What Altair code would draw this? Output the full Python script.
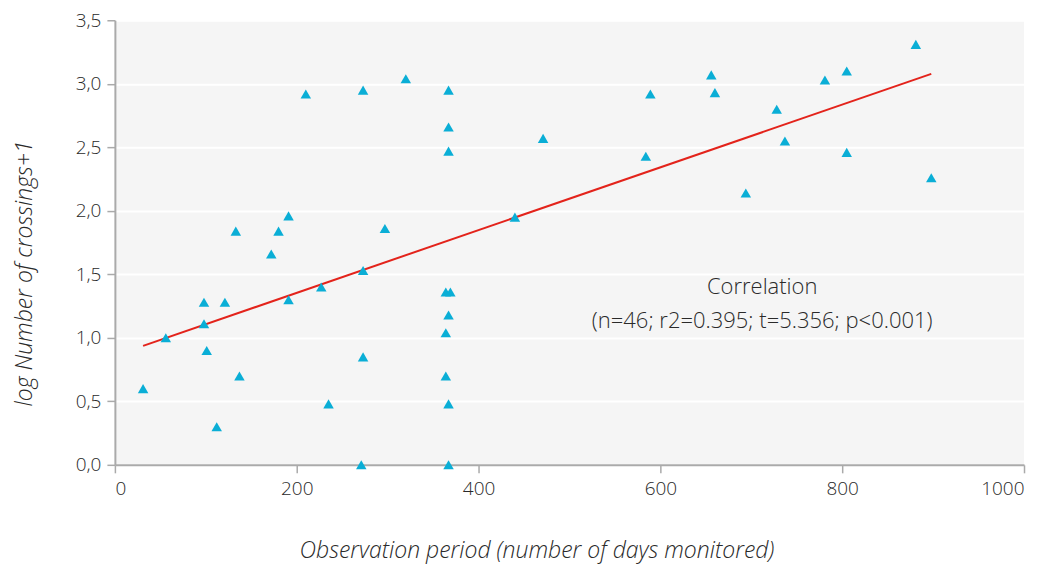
import altair as alt
import pandas as pd

days = [31, 56, 98, 121, 98, 101, 137, 112, 172, 191, 227, 273, 235, 273, 271,
        364, 369, 367, 364, 364, 367, 367, 133, 180, 191, 297, 440, 210, 273,
        320, 367, 367, 367, 471, 589, 584, 656, 660, 694, 728, 737, 781, 805,
        805, 881, 898]
log_cross = [0.60, 1.00, 1.28, 1.28, 1.11, 0.90, 0.70, 0.30, 1.66, 1.30, 1.40,
             1.53, 0.48, 0.85, 0.00, 1.36, 1.36, 1.18, 1.04, 0.70, 0.48, 0.00,
             1.84, 1.84, 1.96, 1.86, 1.95, 2.92, 2.95, 3.04, 2.95, 2.66, 2.47,
             2.57, 2.92, 2.43, 3.07, 2.93, 2.14, 2.80, 2.55, 3.03, 3.10, 2.46,
             3.31, 2.26]

note_lines = ["Correlation", "(n=46; r2=0.395; t=5.356; p<0.001)"]
note_x = [712, 712]
note_y = [1.40, 1.13]

df = pd.DataFrame({"days": days, "logc": log_cross})
notes = pd.DataFrame({"text": note_lines, "x": note_x, "y": note_y})

FONT = "Open Sans"
TXT = "#2a2a2a"

xscale = alt.Scale(domain=[0, 1000], nice=False, zero=True)
yscale = alt.Scale(domain=[0, 3.5], nice=False)

xaxis = alt.Axis(values=[0, 200, 400, 600, 800, 1000], grid=False, format="d",
                 title="Observation period (number of days monitored)",
                 titleFontStyle="italic", titleFontWeight=300,
                 titleFontSize=23, titleColor=TXT, titleFont=FONT,
                 titleX=422, titleY=86, titleBaseline="middle",
                 titleAlign="center",
                 labelFont=FONT, labelFontSize=19, labelFontWeight=300,
                 labelColor=TXT, labelPadding=7, tickSize=8,
                 tickColor="#aaaaaa", domainColor="#aaaaaa", domainWidth=2,
                 tickWidth=1.5)
yaxis = alt.Axis(values=[0, 0.5, 1, 1.5, 2, 2.5, 3, 3.5], grid=True,
                 gridColor="white", gridWidth=2,
                 labelExpr="replace(format(datum.value, '.1f'), '.', ',')",
                 title="log Number of crossings+1",
                 titleFontStyle="italic", titleFontWeight=300,
                 titleFontSize=23, titleColor=TXT, titleFont=FONT,
                 titleX=-90, titleY=253, titleBaseline="middle",
                 titleAlign="center", titleAngle=270,
                 labelFont=FONT, labelFontSize=19, labelFontWeight=300,
                 labelColor=TXT, labelPadding=6, tickSize=8,
                 tickColor="#aaaaaa", domainColor="#aaaaaa", domainWidth=2,
                 tickWidth=1.5)

base = alt.Chart(df)

points = base.mark_point(shape="triangle-up", filled=True, size=110,
                         color="#0aaed6", opacity=1).encode(
    x=alt.X("days:Q", scale=xscale, axis=xaxis),
    y=alt.Y("logc:Q", scale=yscale, axis=yaxis),
)

trend = base.transform_regression("days", "logc").mark_line(
    color="#e3231b", strokeWidth=2).encode(
    x=alt.X("days:Q", scale=xscale),
    y=alt.Y("logc:Q", scale=yscale),
)

text = alt.Chart(notes).mark_text(font=FONT, fontSize=22, fontWeight=300,
                                  color=TXT, align="center",
                                  baseline="middle").encode(
    x=alt.X("x:Q", scale=xscale),
    y=alt.Y("y:Q", scale=yscale),
    text="text:N",
)

chart = alt.layer(trend, points, text).properties(
    width=910, height=445,
    padding={"left": 107, "top": 12, "right": 10, "bottom": 101},
    autosize=alt.AutoSizeParams(type="none"),
).configure_view(fill="#f5f5f5", stroke=None)

chart.save("out.html", embed_options={"renderer": "svg", "actions": False})
